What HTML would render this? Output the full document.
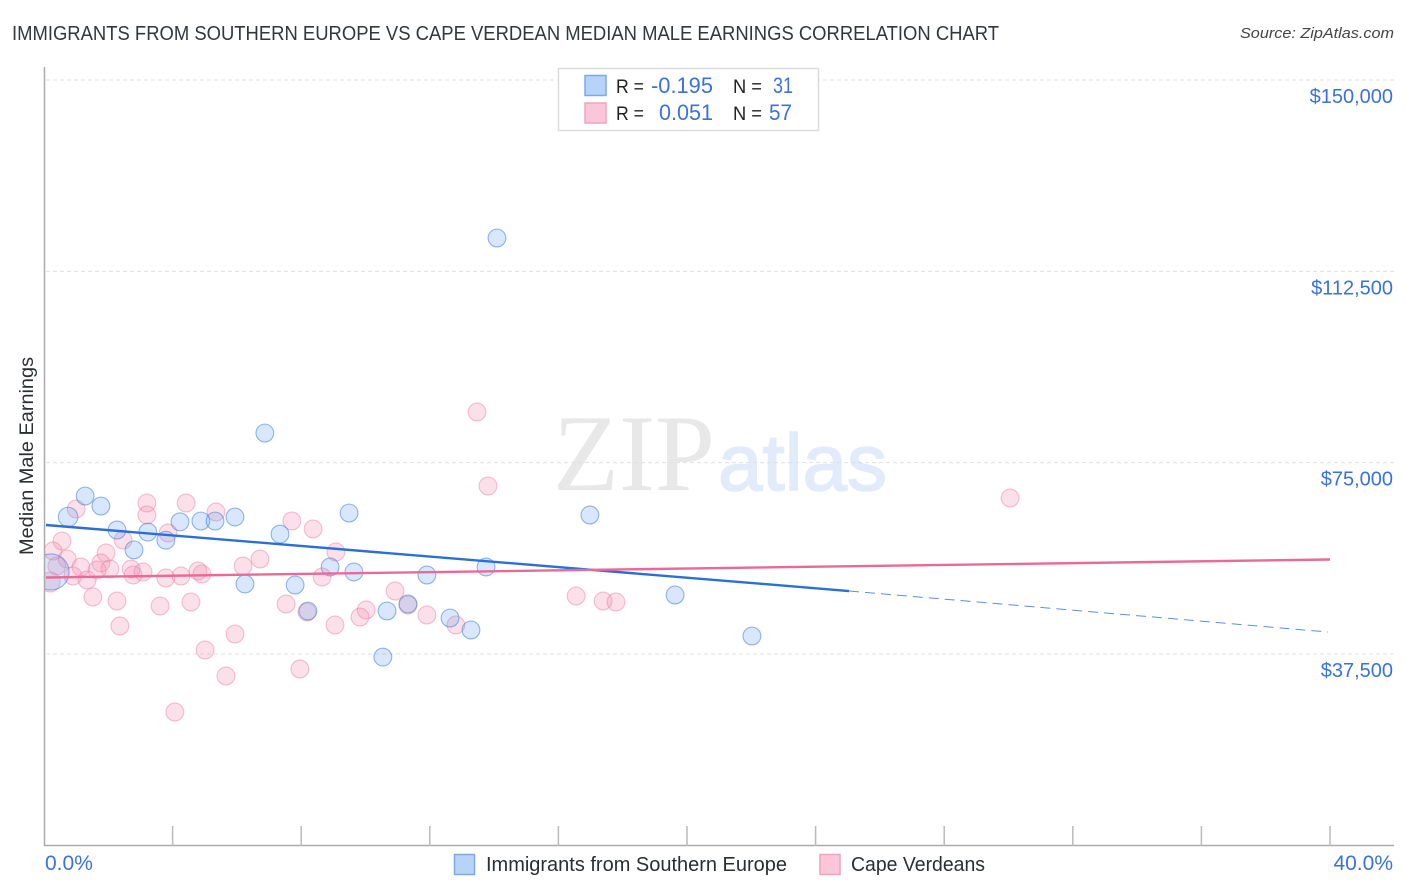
<!DOCTYPE html>
<html lang="en">
<head>
<meta charset="utf-8">
<title>Immigrants from Southern Europe vs Cape Verdean Median Male Earnings Correlation Chart</title>
<style>
html,body{margin:0;padding:0;background:#fff;}
svg{display:block;font-family:"Liberation Sans",sans-serif;}
</style>
</head>
<body>
<svg id="chart" xmlns="http://www.w3.org/2000/svg" width="1406" height="892" viewBox="0 0 1406 892">
  <defs>
    <clipPath id="plot-clip"><rect x="45" y="60" width="1350" height="786"></rect></clipPath>
  </defs>
  <rect width="1406" height="892" fill="#fff"></rect>

  <text x="12" y="40" font-size="20" fill="#33373c" textLength="987" lengthAdjust="spacingAndGlyphs">IMMIGRANTS FROM SOUTHERN EUROPE VS CAPE VERDEAN MEDIAN MALE EARNINGS CORRELATION CHART</text>
  <text x="1394" y="38" font-size="15" font-style="italic" fill="#444" text-anchor="end" textLength="154" lengthAdjust="spacingAndGlyphs">Source: ZipAtlas.com</text>

  <g>
    <text x="553" y="490" font-family="'Liberation Serif',serif" font-size="109" fill="#e8e8e8" textLength="162" lengthAdjust="spacingAndGlyphs">ZIP</text>
    <text x="718" y="490" font-family="'Liberation Sans',sans-serif" font-size="80" fill="#e1ebf9" stroke="#e1ebf9" stroke-width="1.6" textLength="169" lengthAdjust="spacingAndGlyphs">atlas</text>
  </g>

  <g id="grid"></g>
  <g id="points" clip-path="url(#plot-clip)"></g>
  <g id="trends" clip-path="url(#plot-clip)"></g>
  <g id="axes"></g>

  <text transform="translate(33,456) rotate(-90)" font-size="19" fill="#2a2e33" text-anchor="middle" textLength="198" lengthAdjust="spacingAndGlyphs">Median Male Earnings</text>

  <g>
    <rect x="558.5" y="68.5" width="260" height="62" fill="#fff" stroke="#dcdcdc" stroke-width="1.5"></rect>
    <rect x="585" y="75.5" width="21" height="20" fill="#b7d3f8" stroke="#7fa9e6" stroke-width="1.5"></rect>
    <rect x="585" y="103" width="21" height="20" fill="#fac6d8" stroke="#f2a3bd" stroke-width="1.5"></rect>
    <text x="616" y="93" font-size="19" fill="#222" textLength="28" lengthAdjust="spacingAndGlyphs">R =</text>
    <text x="651" y="93" font-size="22" fill="#3b72d9" textLength="62" lengthAdjust="spacingAndGlyphs">-0.195</text>
    <text x="733" y="93" font-size="19" fill="#222" textLength="29" lengthAdjust="spacingAndGlyphs">N =</text>
    <text x="773" y="93" font-size="22" fill="#3b72d9" textLength="20" lengthAdjust="spacingAndGlyphs">31</text>
    <text x="616" y="120" font-size="19" fill="#222" textLength="28" lengthAdjust="spacingAndGlyphs">R =</text>
    <text x="659" y="120" font-size="22" fill="#3b72d9" textLength="54" lengthAdjust="spacingAndGlyphs">0.051</text>
    <text x="733" y="120" font-size="19" fill="#222" textLength="29" lengthAdjust="spacingAndGlyphs">N =</text>
    <text x="769" y="120" font-size="22" fill="#3b72d9" textLength="23" lengthAdjust="spacingAndGlyphs">57</text>
  </g>

  <g>
    <g>
      <rect x="454.5" y="854.5" width="20" height="20" fill="#b7d3f8" stroke="#7fa9e6" stroke-width="1.5"></rect>
      <text x="486" y="871" font-size="20" fill="#2a2e33" textLength="301" lengthAdjust="spacingAndGlyphs">Immigrants from Southern Europe</text>
    </g>
    <g>
      <rect x="820" y="854.5" width="20" height="20" fill="#fac6d8" stroke="#f2a3bd" stroke-width="1.5"></rect>
      <text x="851" y="871" font-size="20" fill="#2a2e33" textLength="134" lengthAdjust="spacingAndGlyphs">Cape Verdeans</text>
    </g>
  </g>
</svg>
<script>
const yTicks = [150000, 112500, 75000, 37500];
const yTickLabels = ['$150,000', '$112,500', '$75,000', '$37,500'];
const xTicks = [0, 4, 8, 12, 16, 20, 24, 28, 32, 36, 40];
const xEdgeTicks = [0, 40];
const xEdgeLabels = ['0.0%', '40.0%'];

const blueX = [14.09,6.87,1.28,0.75,1.77,2.27,3.23,2.80,3.79,4.23,4.88,5.32,5.94,7.34,9.49,16.98,8.90,9.64,11.91,13.75,6.25,7.81,8.21,10.67,11.32,12.63,13.28,10.54,19.63,22.02,0.22];
const blueY = [119030,80810,68460,64350,66500,61800,61400,57900,59800,63400,63560,63560,64350,61000,65130,64740,54550,53570,52980,54550,51220,51020,45920,45920,47300,44550,42200,36900,49060,41020,53570];
const blueSizes = [1,1,1,1.2,1,1,1,1,1,1,1,1,1,1,1,1,1,1,1,1,1,1,1,1,1,1,1,1,1,1,4.1];

const pinkX = [1.00,3.20,3.20,4.42,5.35,3.86,7.71,8.37,0.56,2.46,0.28,9.08,1.93,0.72,0.40,1.77,6.72,6.19,1.15,1.65,2.05,2.71,3.08,2.77,4.79,4.91,4.26,3.79,0.90,1.34,0.19,8.65,1.52,2.27,3.61,4.57,7.53,8.18,9.05,2.36,5.94,5.01,5.66,7.96,4.07,10.92,10.02,9.83,11.32,11.91,12.81,16.55,17.39,17.79,13.47,13.81,30.05];
const pinkY = [65916,67092,64740,67092,65328,61212,63564,61996,59644,59840,57684,57488,57292,56116,54744,55332,56116,54744,54548,53960,54156,54156,53568,52980,53764,53176,52784,52392,52784,52000,51608,52588,48668,47884,46904,47688,47296,45728,43180,42984,41416,38280,33184,34556,26128,49844,46120,44748,47100,45140,43180,48864,47884,47688,84928,70424,68072];

const blueTrendX = [0.06, 25.04];
const blueTrendY = [62780, 49844];
const blueForecastX = [25.04, 39.94];
const blueForecastY = [49844, 41808];
const pinkTrendX = [0.06, 40];
const pinkTrendY = [52490, 56018];

const NS = 'http://www.w3.org/2000/svg';
function xPos(v) { return 44 + (v / 40) * 1286; }
function yPos(v) { return 80 + ((150000 - v) / 37500) * 191.33; }
function make(tag, attrs, parent) {
  const el = document.createElementNS(NS, tag);
  for (const k in attrs) el.setAttribute(k, attrs[k]);
  parent.appendChild(el);
  return el;
}
const grid = document.getElementById('grid');
const axes = document.getElementById('axes');
const points = document.getElementById('points');
const trends = document.getElementById('trends');

yTicks.forEach(function (t, i) {
  const line = make('line', {x1: 46, x2: 1394, y1: yPos(t), y2: yPos(t), stroke: '#e0e0e0', 'stroke-width': 1, 'stroke-dasharray': '4 3'}, grid);
  
  
  const label = make('text', {x: 1393, y: yPos(t) + 23, 'font-size': 20, fill: '#3b72d9', 'text-anchor': 'end'}, axes);
  
  
  label.textContent = yTickLabels[i];
});

const yAxis = make('line', {x1: 44.5, x2: 44.5, y1: 67, y2: 846, stroke: '#aaa', 'stroke-width': 1.5}, axes);


const xAxis = make('line', {x1: 44, x2: 1394, y1: 845.5, y2: 845.5, stroke: '#aaa', 'stroke-width': 1.5}, axes);



xTicks.slice(1).forEach(function (t) {
  const tick = make('line', {x1: xPos(t), x2: xPos(t), y1: 826, y2: 846, stroke: '#bbb', 'stroke-width': 1.5}, axes);
  
  
});
xEdgeTicks.forEach(function (t, i) {
  const label = make('text', {x: i === 0 ? xPos(t) + 1 : 1393, y: 870, 'font-size': 21, fill: '#3b72d9', 'text-anchor': i === 0 ? 'start' : 'end'}, axes);
  
  
  label.textContent = xEdgeLabels[i];
});

pinkX.forEach(function (x, i) {
  const dot = make('circle', {cx: xPos(x), cy: yPos(pinkY[i]), r: i === 30 ? 10 : 8.9, fill: 'rgba(244,140,175,0.27)', stroke: 'rgba(236,130,165,0.5)', 'stroke-width': 1.1}, points);
  
  
});
blueX.forEach(function (x, i) {
  const dot = make('circle', {cx: xPos(x), cy: yPos(blueY[i]), r: 8.9 * Math.sqrt(blueSizes[i]), fill: 'rgba(110,165,240,0.27)', stroke: 'rgba(60,125,215,0.55)', 'stroke-width': 1.1}, points);
  
  
});

const blueLine = make('line', {x1: xPos(blueTrendX[0]), y1: yPos(blueTrendY[0]), x2: xPos(blueTrendX[1]), y2: yPos(blueTrendY[1]), stroke: '#2b6fd6', 'stroke-width': 2.4}, trends);


const blueDash = make('line', {x1: xPos(blueForecastX[0]), y1: yPos(blueForecastY[0]), x2: xPos(blueForecastX[1]), y2: yPos(blueForecastY[1]), stroke: '#5f8fd8', 'stroke-width': 1, 'stroke-dasharray': '10 6'}, trends);


const pinkLine = make('line', {x1: xPos(pinkTrendX[0]), y1: yPos(pinkTrendY[0]), x2: xPos(pinkTrendX[1]), y2: yPos(pinkTrendY[1]), stroke: '#ea6a97', 'stroke-width': 2.4}, trends);


</script>
</body>
</html>
